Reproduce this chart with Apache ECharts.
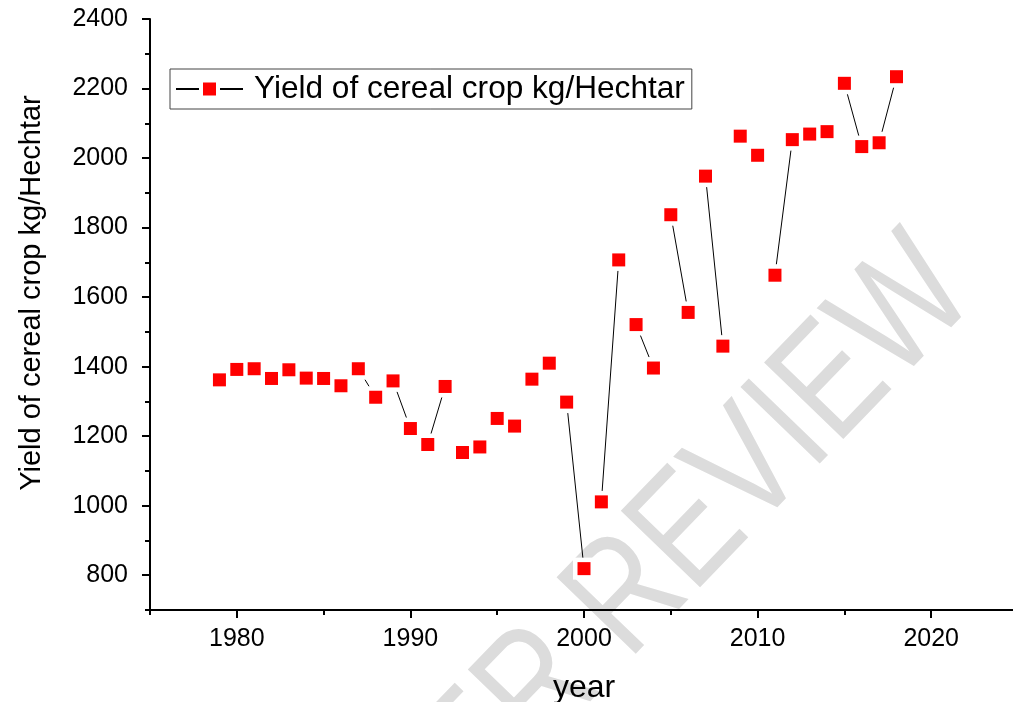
<!DOCTYPE html>
<html>
<head>
<meta charset="utf-8">
<script src="https://cdn.jsdelivr.net/npm/echarts@6/dist/echarts.min.js"></script>
<style>
html,body{margin:0;padding:0;background:#fff;}
#chart{width:1013px;height:702px;}
</style>
</head>
<body>
<div id="chart"></div>
<script>
const years = [1979,1980,1981,1982,1983,1984,1985,1986,1987,1988,1989,1990,1991,1992,1993,1994,1995,1996,1997,1998,1999,2000,2001,2002,2003,2004,2005,2006,2007,2008,2009,2010,2011,2012,2013,2014,2015,2016,2017,2018];
const yieldValues = [1362,1392,1394,1366,1391,1367,1366,1345,1394,1312,1359,1222,1176,1343,1153,1169,1251,1229,1364,1410,1298,819,1011,1707,1521,1396,1837,1556,1948,1459,2063,2008,1663,2053,2069,2076,2215,2033,2044,2234];
const seriesName = 'Yield of cereal crop kg/Hechtar';
const xMajorTicks = [1980,1990,2000,2010,2020];
const xMinorTicks = [1975,1985,1995,2005,2015,2025];
const yMajorTicks = [800,1000,1200,1400,1600,1800,2000,2200,2400];
const yMinorTicks = [700,900,1100,1300,1500,1700,1900,2100,2300];
const xTitle = 'year';
const yTitle = 'Yield of cereal crop kg/Hechtar';
const watermark = 'PEER REVIEW';

const points = years.map((y, i) => [y, yieldValues[i]]);
// Line connects points in consecutive pairs (segment style)
const lineData = [];
for (let i = 0; i < points.length; i += 2) {
  lineData.push(points[i]);
  if (i + 1 < points.length) lineData.push(points[i + 1]);
  lineData.push(['-', '-']);
}
const FONT = "Arial, 'Liberation Sans', sans-serif";
const plain = v => String(v);

const chart = echarts.init(document.getElementById('chart'), null, {renderer: 'canvas'});
const axisLine = {show: true, lineStyle: {color: '#000', width: 2}};
const theta = 46 * Math.PI / 180;
chart.setOption({
  animation: false,
  backgroundColor: '#fff',
  grid: {left: 150, right: -5, top: 19, bottom: 92, containLabel: false, outerBoundsMode: 'none'},
  legend: {
    data: [seriesName],
    left: 170, top: 69,
    orient: 'horizontal',
    borderColor: '#444', borderWidth: 1,
    padding: [4, 7, 4, 5],
    itemWidth: 67, itemHeight: 21.25,
    itemStyle: {borderColor: '#ffffff', borderWidth: 4},
    textStyle: {fontFamily: FONT, fontSize: 31.6, lineHeight: 30, color: '#000', padding: [0, 0, 0, 6]}
  },
  xAxis: [{
    type: 'value', min: 1975, max: 2025, interval: 5,
    position: 'bottom',
    axisLine: axisLine,
    splitLine: {show: false},
    axisTick: {show: true, inside: false, length: 8, lineStyle: {color: '#000', width: 2}, customValues: xMajorTicks},
    axisLabel: {show: true, margin: 17, fontFamily: FONT, fontSize: 25, color: '#000', customValues: xMajorTicks, formatter: plain},
    name: xTitle, nameLocation: 'middle', nameGap: 62,
    nameTextStyle: {fontFamily: FONT, fontSize: 32, color: '#000'}
  }, {
    type: 'value', min: 1975, max: 2025, interval: 5,
    position: 'bottom', offset: 0,
    axisLine: {show: false},
    splitLine: {show: false},
    axisTick: {show: true, inside: false, length: 5, lineStyle: {color: '#000', width: 2}, customValues: xMinorTicks},
    axisLabel: {show: false}
  }],
  yAxis: [{
    type: 'value', min: 700, max: 2400, interval: 100,
    position: 'left',
    axisLine: axisLine,
    splitLine: {show: false},
    axisTick: {show: true, inside: false, length: 8, lineStyle: {color: '#000', width: 2}, customValues: yMajorTicks},
    axisLabel: {show: true, margin: 22, fontFamily: FONT, fontSize: 25, color: '#000', customValues: yMajorTicks, formatter: plain}
  }, {
    type: 'value', min: 700, max: 2400, interval: 100,
    position: 'left', offset: 0,
    axisLine: {show: false},
    splitLine: {show: false},
    axisTick: {show: true, inside: false, length: 5, lineStyle: {color: '#000', width: 2}, customValues: yMinorTicks},
    axisLabel: {show: false}
  }],
  graphic: [{
    type: 'text', z: -100, silent: true,
    x: 330, y: 907, rotation: theta, scaleX: 0.8, scaleY: 1,
    style: {text: watermark, fill: '#dcdcdc', font: "160px " + FONT, textAlign: 'left', textVerticalAlign: 'middle'}
  }, {
    type: 'text', silent: true,
    x: 32, y: 293, rotation: Math.PI / 2,
    style: {text: yTitle, fill: '#000', font: "29px " + FONT, textAlign: 'center', textVerticalAlign: 'middle'}
  }],
  series: [{
    name: seriesName, type: 'line', data: lineData, z: 2,
    connectNulls: false,
    symbol: 'rect', symbolSize: 13, showSymbol: true,
    itemStyle: {color: '#ff0000', opacity: 1},
    lineStyle: {color: '#000', width: 1}
  }, {
    name: 'halo', type: 'scatter', data: points, z: 3, silent: true,
    symbol: 'rect', symbolSize: 22,
    itemStyle: {color: '#ffffff', opacity: 1}
  }, {
    name: 'marks', type: 'scatter', data: points, z: 4, silent: true,
    symbol: 'rect', symbolSize: 13,
    itemStyle: {color: '#ff0000', opacity: 1}
  }]
});
</script>
</body>
</html>
